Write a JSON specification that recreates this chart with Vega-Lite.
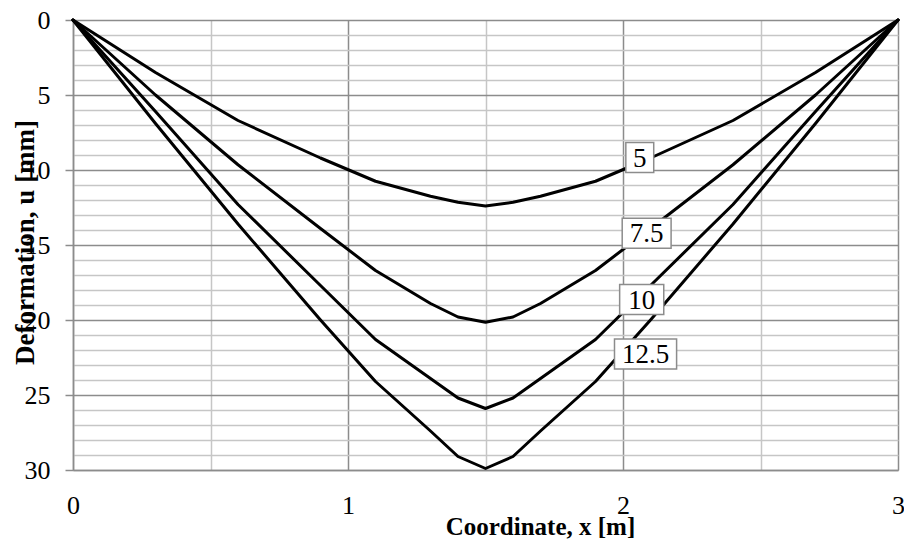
{
  "$schema": "https://vega.github.io/schema/vega-lite/v6.json",
  "autosize": "none",
  "padding": {"left": 73, "top": 20, "right": 6, "bottom": 70},
  "width": 825,
  "height": 450,
  "background": "white",
  "config": {
    "font": "Liberation Serif",
    "text": {"font": "Liberation Serif"},
    "view": {"stroke": null}
  },
  "datasets": {
    "curves": [
      {"x": 0, "u": 0, "load": "5"}, {"x": 0.3, "u": 3.5, "load": "5"}, {"x": 0.6, "u": 6.7, "load": "5"}, {"x": 0.9, "u": 9.2, "load": "5"}, {"x": 1.1, "u": 10.75, "load": "5"}, {"x": 1.3, "u": 11.75, "load": "5"}, {"x": 1.4, "u": 12.15, "load": "5"}, {"x": 1.5, "u": 12.4, "load": "5"}, {"x": 1.6, "u": 12.15, "load": "5"}, {"x": 1.7, "u": 11.75, "load": "5"}, {"x": 1.9, "u": 10.75, "load": "5"}, {"x": 2.1, "u": 9.2, "load": "5"}, {"x": 2.4, "u": 6.7, "load": "5"}, {"x": 2.7, "u": 3.5, "load": "5"}, {"x": 3, "u": 0, "load": "5"},
      {"x": 0, "u": 0, "load": "7.5"}, {"x": 0.3, "u": 5.0, "load": "7.5"}, {"x": 0.6, "u": 9.65, "load": "7.5"}, {"x": 0.9, "u": 13.9, "load": "7.5"}, {"x": 1.1, "u": 16.7, "load": "7.5"}, {"x": 1.3, "u": 18.9, "load": "7.5"}, {"x": 1.4, "u": 19.8, "load": "7.5"}, {"x": 1.5, "u": 20.15, "load": "7.5"}, {"x": 1.6, "u": 19.8, "load": "7.5"}, {"x": 1.7, "u": 18.9, "load": "7.5"}, {"x": 1.9, "u": 16.7, "load": "7.5"}, {"x": 2.1, "u": 13.9, "load": "7.5"}, {"x": 2.4, "u": 9.65, "load": "7.5"}, {"x": 2.7, "u": 5.0, "load": "7.5"}, {"x": 3, "u": 0, "load": "7.5"},
      {"x": 0, "u": 0, "load": "10"}, {"x": 0.3, "u": 6.1, "load": "10"}, {"x": 0.6, "u": 12.3, "load": "10"}, {"x": 0.9, "u": 17.7, "load": "10"}, {"x": 1.1, "u": 21.3, "load": "10"}, {"x": 1.3, "u": 23.9, "load": "10"}, {"x": 1.4, "u": 25.2, "load": "10"}, {"x": 1.5, "u": 25.9, "load": "10"}, {"x": 1.6, "u": 25.2, "load": "10"}, {"x": 1.7, "u": 23.9, "load": "10"}, {"x": 1.9, "u": 21.3, "load": "10"}, {"x": 2.1, "u": 17.7, "load": "10"}, {"x": 2.4, "u": 12.3, "load": "10"}, {"x": 2.7, "u": 6.1, "load": "10"}, {"x": 3, "u": 0, "load": "10"},
      {"x": 0, "u": 0, "load": "12.5"}, {"x": 0.3, "u": 6.9, "load": "12.5"}, {"x": 0.6, "u": 13.6, "load": "12.5"}, {"x": 0.9, "u": 20.0, "load": "12.5"}, {"x": 1.1, "u": 24.1, "load": "12.5"}, {"x": 1.3, "u": 27.4, "load": "12.5"}, {"x": 1.4, "u": 29.1, "load": "12.5"}, {"x": 1.5, "u": 29.9, "load": "12.5"}, {"x": 1.6, "u": 29.1, "load": "12.5"}, {"x": 1.7, "u": 27.4, "load": "12.5"}, {"x": 1.9, "u": 24.1, "load": "12.5"}, {"x": 2.1, "u": 20.0, "load": "12.5"}, {"x": 2.4, "u": 13.6, "load": "12.5"}, {"x": 2.7, "u": 6.9, "load": "12.5"}, {"x": 3, "u": 0, "load": "12.5"}
    ],
    "labels": [
      {"label": "5", "x": 2.061, "u": 9.17},
      {"label": "7.5", "x": 2.086, "u": 14.22},
      {"label": "10", "x": 2.068, "u": 18.64},
      {"label": "12.5", "x": 2.082, "u": 22.26}
    ]
  },
  "encoding": {
    "x": {
      "field": "x", "type": "quantitative",
      "scale": {"domain": [0, 3], "nice": false, "zero": false},
      "axis": {
        "values": [0, 0.5, 1, 1.5, 2, 2.5, 3],
        "grid": true,
        "gridColor": {"condition": {"test": "datum.value % 1 === 0", "value": "#8c8c8c"}, "value": "#c6c6c6"},
        "gridWidth": 1.5,
        "ticks": false,
        "tickSize": 0,
        "domainColor": "#8c8c8c",
        "domainWidth": 1.5,
        "labelExpr": "datum.value % 1 === 0 ? format(datum.value, 'd') : ''",
        "labelFont": "Liberation Serif",
        "labelFontSize": 26,
        "labelColor": "black",
        "labelBaseline": "alphabetic",
        "labelPadding": 43,
        "labelFlush": false,
        "labelOverlap": false,
        "title": "Coordinate, x [m]",
        "titleFont": "Liberation Serif",
        "titleFontSize": 25,
        "titleFontWeight": "bold",
        "titleColor": "black",
        "titleX": 467,
        "titleY": 64,
        "titleBaseline": "alphabetic",
        "titleAlign": "center"
      }
    },
    "y": {
      "field": "u", "type": "quantitative",
      "scale": {"domain": [0, 30], "reverse": true, "nice": false, "zero": false},
      "axis": {
        "values": [0,1,2,3,4,5,6,7,8,9,10,11,12,13,14,15,16,17,18,19,20,21,22,23,24,25,26,27,28,29,30],
        "grid": true,
        "gridColor": {"condition": {"test": "datum.value % 5 === 0", "value": "#8c8c8c"}, "value": "#c6c6c6"},
        "gridWidth": 1.5,
        "tickSize": 8,
        "tickWidth": 1.5,
        "tickColor": {"condition": {"test": "datum.value % 5 === 0", "value": "#8c8c8c"}, "value": "transparent"},
        "domainColor": "#8c8c8c",
        "domainWidth": 1.5,
        "labelExpr": "datum.value % 5 === 0 ? format(datum.value, 'd') : ''",
        "labelFont": "Liberation Serif",
        "labelFontSize": 26,
        "labelColor": "black",
        "labelPadding": 15,
        "labelBaseline": "middle",
        "labelFlush": false,
        "labelOverlap": false,
        "title": "Deformation, u [mm]",
        "titleFont": "Liberation Serif",
        "titleFontSize": 27,
        "titleFontWeight": "bold",
        "titleColor": "black",
        "titleAngle": 270,
        "titleX": -48,
        "titleY": 222,
        "titleBaseline": "middle",
        "titleAlign": "center"
      }
    }
  },
  "layer": [
    {
      "data": {"name": "curves"},
      "mark": {"type": "line", "color": "black", "strokeWidth": 3, "strokeJoin": "round", "strokeCap": "round"},
      "encoding": {
        "detail": {"field": "load", "type": "nominal"}
      }
    },
    {
      "data": {"name": "labels"},
      "mark": {"type": "point", "filled": true, "fill": "white", "stroke": "#8c8c8c", "strokeWidth": 1.5, "opacity": 1, "size": 900},
      "encoding": {
        "shape": {
          "field": "label", "type": "nominal", "legend": null,
          "scale": {
            "domain": ["5", "7.5", "10", "12.5"],
            "range": ["M-0.93,-1H0.93V1H-0.93Z", "M-1.63,-1H1.63V1H-1.63Z", "M-1.47,-1H1.47V1H-1.47Z", "M-2.07,-1H2.07V1H-2.07Z"]
          }
        }
      }
    },
    {
      "data": {"name": "labels"},
      "mark": {"type": "text", "font": "Liberation Serif", "fontSize": 27, "color": "black", "align": "center", "baseline": "middle", "dy": 1},
      "encoding": {
        "text": {"field": "label", "type": "nominal"}
      }
    }
  ]
}
